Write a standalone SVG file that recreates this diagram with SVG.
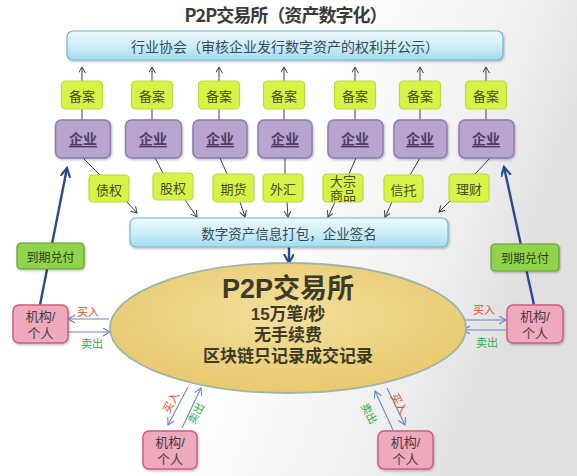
<svg xmlns="http://www.w3.org/2000/svg" width="577" height="476" viewBox="0 0 577 476">
<defs>
<linearGradient id="bg" x1="0" y1="0" x2="1" y2="0.3">
<stop offset="0" stop-color="#ffffff"/>
<stop offset="0.55" stop-color="#ffffff"/>
<stop offset="0.85" stop-color="#efefef"/>
<stop offset="1" stop-color="#e0e0e0"/>
</linearGradient>
<linearGradient id="blueBox" x1="0" y1="0" x2="0" y2="1">
<stop offset="0" stop-color="#eefafd"/>
<stop offset="0.5" stop-color="#cdeef8"/>
<stop offset="1" stop-color="#a2dcef"/>
</linearGradient>
<radialGradient id="ellFill" cx="0.5" cy="0.4" r="0.6">
<stop offset="0" stop-color="#f3df9c"/>
<stop offset="1" stop-color="#e8c96e"/>
</radialGradient>
<filter id="sh" x="-10%" y="-10%" width="120%" height="130%">
<feDropShadow dx="0.8" dy="1.2" stdDeviation="1" flood-color="#000" flood-opacity="0.28"/>
</filter>
<marker id="aGray" markerUnits="userSpaceOnUse" markerWidth="8" markerHeight="8" refX="6" refY="3.5" orient="auto">
<path d="M0,0 L6,3.5 L0,7" fill="none" stroke="#404040" stroke-width="1"/>
</marker>
<marker id="aBlue" markerUnits="userSpaceOnUse" markerWidth="9" markerHeight="9" refX="7" refY="4" orient="auto">
<path d="M0,0 L7,4 L0,8" fill="none" stroke="#6a86c8" stroke-width="1.1"/>
</marker>
<marker id="aNavy" markerUnits="userSpaceOnUse" markerWidth="12" markerHeight="12" refX="9" refY="5" orient="auto">
<path d="M0,0 L9,5 L0,10" fill="none" stroke="#2a4a8c" stroke-width="2.2"/>
</marker>
</defs>
<style>
text{font-family:"Noto Sans CJK SC","Noto Sans",sans-serif;text-anchor:middle;dominant-baseline:central}
text.lt{font-family:"Liberation Sans","Noto Sans CJK SC",sans-serif}
.blue{fill:url(#blueBox);stroke:#72b6cc;stroke-width:1.2}
.yg{fill:#d6f448;stroke:#b9d83c;stroke-width:1.2}
.lav{fill:#b9a3cf;stroke:#8b7cab;stroke-width:1.5}
.grn{fill:#8fd44c;stroke:#5e9f34;stroke-width:1.2}
.pnk{fill:#efa9bc;stroke:#c9607d;stroke-width:1.5}
.tyg{font-size:13px;fill:#4a4a26}
.tlav{font-size:14px;font-weight:bold;fill:#4f3d64;text-decoration:underline}
.tg{font-size:12px;fill:#2f3b1f}
.tp{font-size:13px;fill:#4a3a3e}
.buy{font-size:11px;fill:#e84a1e}
.sell{font-size:11px;fill:#1fae4e}
.gray{stroke:#404040;stroke-width:1;fill:none}
.gA{stroke:#404040;stroke-width:1;fill:none;marker-end:url(#aGray)}
.bA{stroke:#6a86c8;stroke-width:1.1;fill:none;marker-end:url(#aBlue)}
.nA{stroke:#2a4a8c;stroke-width:2.4;fill:none;marker-end:url(#aNavy)}
.et{font-weight:bold;fill:#3d3a28}
</style>
<rect width="577" height="476" fill="url(#bg)"/>
<text x="286" y="14" font-size="18" font-weight="bold" fill="#3a3a3a" textLength="203" lengthAdjust="spacing">P2P交易所（资产数字化）</text>

<g id="connectors">
<line class="gA" x1="82" y1="81" x2="82" y2="67"/>
<line class="gA" x1="152" y1="81" x2="152" y2="67"/>
<line class="gA" x1="219" y1="81" x2="219" y2="67"/>
<line class="gA" x1="284" y1="81" x2="284" y2="67"/>
<line class="gA" x1="355" y1="81" x2="355" y2="67"/>
<line class="gA" x1="420" y1="81" x2="420" y2="67"/>
<line class="gA" x1="486" y1="81" x2="486" y2="67"/>
<line class="gray" x1="82" y1="109" x2="82" y2="120"/>
<line class="gray" x1="152" y1="109" x2="152" y2="120"/>
<line class="gray" x1="219" y1="109" x2="219" y2="120"/>
<line class="gray" x1="284" y1="109" x2="284" y2="120"/>
<line class="gray" x1="355" y1="109" x2="355" y2="120"/>
<line class="gray" x1="420" y1="109" x2="420" y2="120"/>
<line class="gray" x1="486" y1="109" x2="486" y2="120"/>
<line class="gray" x1="83" y1="158" x2="100" y2="175"/>
<line class="gray" x1="155" y1="158" x2="163" y2="173"/>
<line class="gray" x1="220" y1="158" x2="227" y2="174"/>
<line class="gray" x1="285" y1="158" x2="285" y2="174"/>
<line class="gray" x1="356" y1="158" x2="349" y2="174"/>
<line class="gray" x1="420" y1="158" x2="410" y2="175"/>
<line class="gray" x1="490" y1="158" x2="475" y2="174"/>
<line class="gA" x1="127" y1="202" x2="137" y2="213"/>
<line class="gA" x1="185" y1="200" x2="197" y2="217"/>
<line class="gA" x1="240" y1="202" x2="245" y2="217"/>
<line class="gA" x1="287" y1="202" x2="288" y2="217"/>
<line class="gA" x1="335" y1="202" x2="328" y2="217"/>
<line class="gA" x1="392" y1="202" x2="385" y2="217"/>
<line class="gA" x1="451" y1="200" x2="439" y2="212"/>
<line class="nA" x1="289" y1="247" x2="289" y2="263"/>
<line class="nA" x1="40" y1="305" x2="67" y2="168"/>
<line class="nA" x1="534" y1="305" x2="504" y2="167"/>
<line class="bA" x1="109" y1="319" x2="68" y2="319"/>
<line class="bA" x1="68" y1="332" x2="110" y2="332"/>
<line class="bA" x1="465" y1="320" x2="506" y2="320"/>
<line class="bA" x1="506" y1="330" x2="463" y2="330"/>
<line class="bA" x1="188" y1="387" x2="168" y2="425"/>
<line class="bA" x1="182" y1="428" x2="201" y2="388"/>
<line class="bA" x1="393" y1="430" x2="375" y2="391"/>
<line class="bA" x1="387" y1="388" x2="405" y2="425"/>
<text class="buy" x="88" y="311">买入</text>
<text class="sell" x="92" y="343">卖出</text>
<text class="buy" x="484" y="309">买入</text>
<text class="sell" x="487" y="342">卖出</text>
<text class="buy" x="170" y="402" transform="rotate(-62 170 402)">买入</text>
<text class="sell" x="195" y="413" transform="rotate(-62 195 413)">卖出</text>
<text class="sell" x="370" y="413" transform="rotate(62 370 413)">卖出</text>
<text class="buy" x="400" y="403" transform="rotate(62 400 403)">买入</text>
</g>

<g id="association">
<rect class="blue" x="67" y="31" width="436" height="29" rx="6" filter="url(#sh)"/>
<text x="285" y="45.5" font-size="14" fill="#3a4a52">行业协会（审核企业发行数字资产的权利并公示）</text>
</g>

<g id="filings">
<g id="beian1"><rect class="yg" x="61.5" y="81" width="41" height="28" rx="4"/><text class="tyg" x="82" y="95">备案</text></g>
<g id="beian2"><rect class="yg" x="131.5" y="81" width="41" height="28" rx="4"/><text class="tyg" x="152" y="95">备案</text></g>
<g id="beian3"><rect class="yg" x="198.5" y="81" width="41" height="28" rx="4"/><text class="tyg" x="219" y="95">备案</text></g>
<g id="beian4"><rect class="yg" x="263.5" y="81" width="41" height="28" rx="4"/><text class="tyg" x="284" y="95">备案</text></g>
<g id="beian5"><rect class="yg" x="334.5" y="81" width="41" height="28" rx="4"/><text class="tyg" x="355" y="95">备案</text></g>
<g id="beian6"><rect class="yg" x="399.5" y="81" width="41" height="28" rx="4"/><text class="tyg" x="420" y="95">备案</text></g>
<g id="beian7"><rect class="yg" x="465.5" y="81" width="41" height="28" rx="4"/><text class="tyg" x="486" y="95">备案</text></g>
</g>

<g id="enterprises">
<g id="qiye1"><rect class="lav" x="55.5" y="120" width="55" height="38" rx="6" filter="url(#sh)"/><text class="tlav" x="83" y="138">企业</text></g>
<g id="qiye2"><rect class="lav" x="125.5" y="120" width="56" height="38" rx="6" filter="url(#sh)"/><text class="tlav" x="153" y="138">企业</text></g>
<g id="qiye3"><rect class="lav" x="193" y="120" width="54" height="38" rx="6" filter="url(#sh)"/><text class="tlav" x="220" y="138">企业</text></g>
<g id="qiye4"><rect class="lav" x="258" y="120" width="54" height="38" rx="6" filter="url(#sh)"/><text class="tlav" x="285" y="138">企业</text></g>
<g id="qiye5"><rect class="lav" x="328" y="120" width="55" height="38" rx="6" filter="url(#sh)"/><text class="tlav" x="355" y="138">企业</text></g>
<g id="qiye6"><rect class="lav" x="394" y="120" width="53" height="38" rx="6" filter="url(#sh)"/><text class="tlav" x="420" y="138">企业</text></g>
<g id="qiye7"><rect class="lav" x="459" y="120" width="55" height="38" rx="6" filter="url(#sh)"/><text class="tlav" x="486" y="138">企业</text></g>
</g>

<g id="assets">
<g id="zhaiquan"><rect class="yg" x="89" y="175" width="40" height="27" rx="4"/><text class="tyg" x="109" y="189">债权</text></g>
<g id="guquan"><rect class="yg" x="153" y="173" width="40" height="27" rx="4"/><text class="tyg" x="173" y="187">股权</text></g>
<g id="qihuo"><rect class="yg" x="213" y="174" width="41" height="28" rx="4"/><text class="tyg" x="233.5" y="188">期货</text></g>
<g id="waihui"><rect class="yg" x="263" y="174" width="40" height="28" rx="4"/><text class="tyg" x="283" y="188">外汇</text></g>
<g id="dazong"><rect class="yg" x="323" y="174" width="40" height="28" rx="4"/><text class="tyg lt" x="343" y="181.5" font-size="11.5">大宗</text><text class="tyg lt" x="343" y="195" font-size="11.5">商品</text></g>
<g id="xintuo"><rect class="yg" x="384" y="175" width="39" height="27" rx="4"/><text class="tyg" x="403.5" y="189">信托</text></g>
<g id="licai"><rect class="yg" x="449" y="174" width="40" height="28" rx="4"/><text class="tyg" x="469" y="188">理财</text></g>
</g>

<g id="package">
<rect class="blue" x="130" y="218" width="318" height="29" rx="6" filter="url(#sh)"/>
<text x="289" y="233" font-size="13.5" fill="#3a4a52">数字资产信息打包，企业签名</text>
</g>

<g id="exchange">
<ellipse cx="288" cy="328" rx="178" ry="65" fill="url(#ellFill)" stroke="#9fb5a6" stroke-width="1.8"/>
<text class="et lt" x="288" y="289" font-size="27">P2P交易所</text>
<text class="et lt" x="288" y="314" font-size="17">15万笔/秒</text>
<text class="et lt" x="288" y="335" font-size="17">无手续费</text>
<text class="et lt" x="288" y="356" font-size="17">区块链只记录成交记录</text>
</g>

<g id="redeem-left"><rect class="grn" x="17" y="243" width="67" height="26" rx="4" filter="url(#sh)"/><text class="tg" x="50.5" y="256">到期兑付</text></g>
<g id="redeem-right"><rect class="grn" x="491" y="244" width="68" height="27" rx="4" filter="url(#sh)"/><text class="tg" x="525" y="257.5">到期兑付</text></g>

<g id="party-left"><rect class="pnk" x="13" y="305" width="55" height="38" rx="6" filter="url(#sh)"/><text class="tp lt" x="40.5" y="316">机构/</text><text class="tp lt" x="40.5" y="333">个人</text></g>
<g id="party-right"><rect class="pnk" x="507" y="305" width="56" height="38" rx="6" filter="url(#sh)"/><text class="tp lt" x="535" y="316">机构/</text><text class="tp lt" x="535" y="333">个人</text></g>
<g id="party-bottom-left"><rect class="pnk" x="143" y="431" width="54" height="38" rx="6" filter="url(#sh)"/><text class="tp lt" x="170" y="442">机构/</text><text class="tp lt" x="170" y="459">个人</text></g>
<g id="party-bottom-right"><rect class="pnk" x="378" y="431" width="55" height="38" rx="6" filter="url(#sh)"/><text class="tp lt" x="405.5" y="442">机构/</text><text class="tp lt" x="405.5" y="459">个人</text></g>
</svg>
